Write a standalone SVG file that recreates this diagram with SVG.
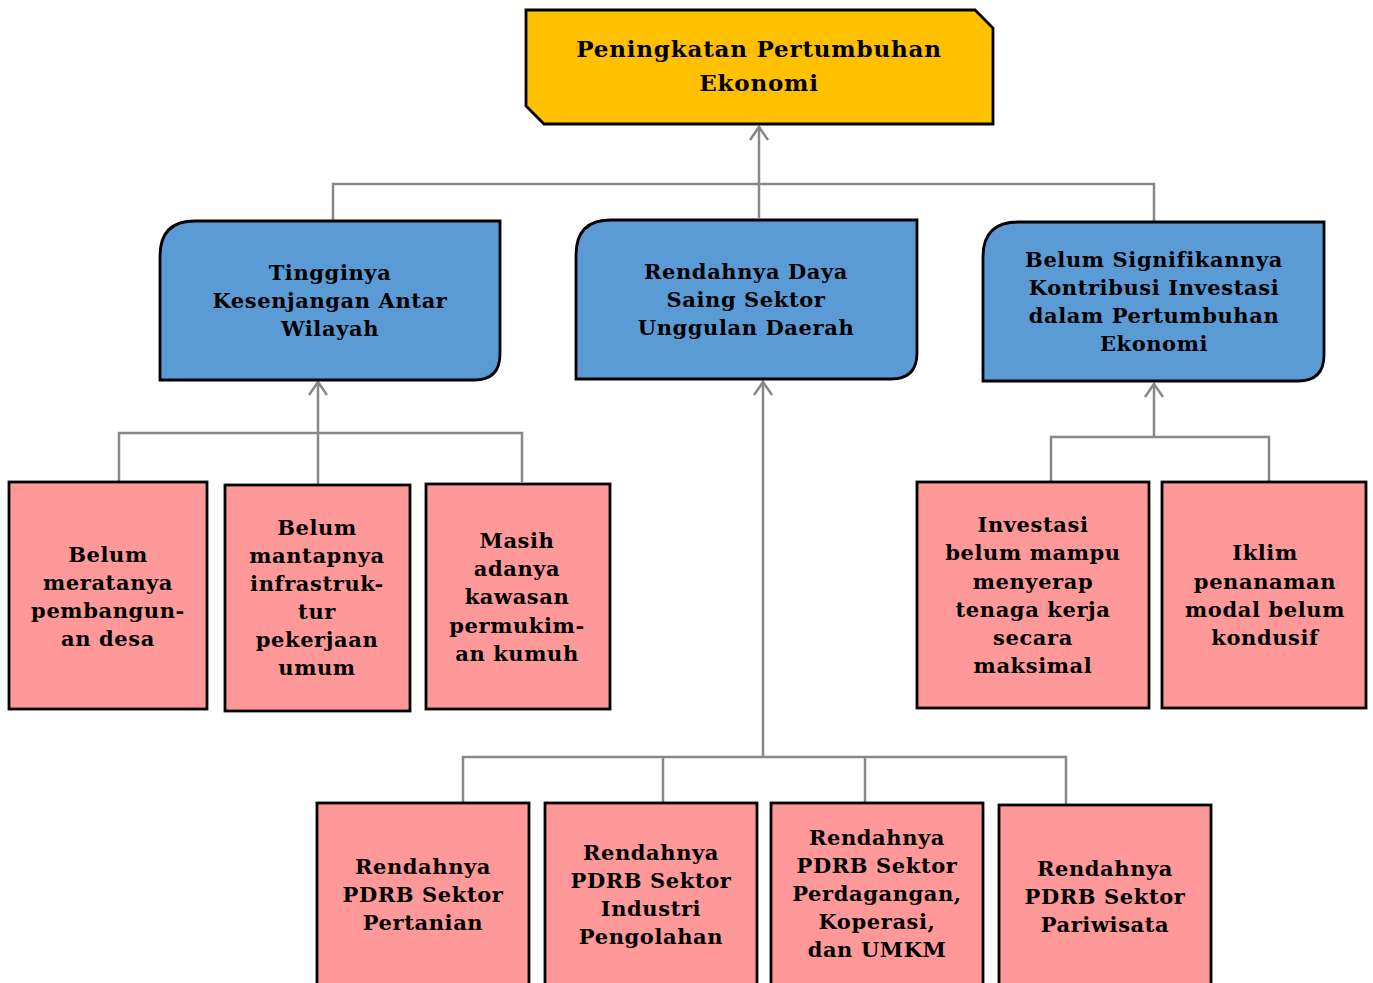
<svg xmlns="http://www.w3.org/2000/svg" width="1373" height="983" viewBox="0 0 1373 983">
<defs>
<style>
.t{font-family:"DejaVu Serif","Liberation Serif",serif;font-weight:bold;font-size:21px;letter-spacing:0.6px;fill:#000;text-anchor:middle}
.tt{font-size:23px;letter-spacing:0.8px}
.gold{fill:#FFC000;stroke:#000;stroke-width:2.8}
.blue{fill:#5B9BD5;stroke:#000;stroke-width:2.8}
.pink{fill:#FF9999;stroke:#000;stroke-width:2.8}
.c{stroke:#888;stroke-width:2.5;fill:none}
</style>
<marker id="arr" markerUnits="userSpaceOnUse" markerWidth="30" markerHeight="30" viewBox="-15 -15 30 30" refX="0" refY="0" orient="auto">
<path d="M -13 -9 L 0 0 L -13 9" fill="none" stroke="#888" stroke-width="2.5"/>
</marker>
</defs>
<rect width="1373" height="983" fill="#fff"/>

<g id="connectors">
<line class="c" x1="759" y1="218" x2="759" y2="127" marker-end="url(#arr)"/>
<polyline class="c" points="333,221 333,184 1154,184 1154,221"/>
<line class="c" x1="318" y1="484" x2="318" y2="382" marker-end="url(#arr)"/>
<polyline class="c" points="119,481 119,433 522,433 522,482"/>
<line class="c" x1="763" y1="757" x2="763" y2="382" marker-end="url(#arr)"/>
<polyline class="c" points="463,803 463,757 1066,757 1066,805"/>
<line class="c" x1="663" y1="757" x2="663" y2="804"/>
<line class="c" x1="865" y1="757" x2="865" y2="803"/>
<line class="c" x1="1154" y1="437" x2="1154" y2="384" marker-end="url(#arr)"/>
<polyline class="c" points="1051,482 1051,437 1269,437 1269,482"/>
</g>

<g id="n-top">
<path class="gold" d="M526,10 L975,10 L993,28 L993,124 L544,124 L526,106 Z"/>
<text class="t tt" x="759" y="57">Peningkatan Pertumbuhan</text>
<text class="t tt" x="759" y="91">Ekonomi</text>
</g>

<g id="n-kesenjangan">
<path class="blue" d="M195,221 L500,221 L500,354 Q500,380 474,380 L160,380 L160,256 Q160,221 195,221 Z"/>
<text class="t" x="330" y="280">Tingginya</text>
<text class="t" x="330" y="308">Kesenjangan Antar</text>
<text class="t" x="330" y="336">Wilayah</text>
</g>

<g id="n-dayasaing">
<path class="blue" d="M611,220 L917,220 L917,353 Q917,379 891,379 L576,379 L576,255 Q576,220 611,220 Z"/>
<text class="t" x="746" y="279">Rendahnya Daya</text>
<text class="t" x="746" y="307">Saing Sektor</text>
<text class="t" x="746" y="335">Unggulan Daerah</text>
</g>

<g id="n-investasi">
<path class="blue" d="M1018,222 L1324,222 L1324,355 Q1324,381 1298,381 L983,381 L983,257 Q983,222 1018,222 Z"/>
<text class="t" x="1154" y="267">Belum Signifikannya</text>
<text class="t" x="1154" y="295">Kontribusi Investasi</text>
<text class="t" x="1154" y="323">dalam Pertumbuhan</text>
<text class="t" x="1154" y="351">Ekonomi</text>
</g>

<g id="n-desa">
<rect class="pink" x="9" y="482" width="198" height="227"/>
<text class="t" x="108" y="562">Belum</text>
<text class="t" x="108" y="590">meratanya</text>
<text class="t" x="108" y="618">pembangun-</text>
<text class="t" x="108" y="646">an desa</text>
</g>

<g id="n-infra">
<rect class="pink" x="225" y="485" width="185" height="226"/>
<text class="t" x="317" y="535">Belum</text>
<text class="t" x="317" y="563">mantapnya</text>
<text class="t" x="317" y="591">infrastruk-</text>
<text class="t" x="317" y="619">tur</text>
<text class="t" x="317" y="647">pekerjaan</text>
<text class="t" x="317" y="675">umum</text>
</g>

<g id="n-kumuh">
<rect class="pink" x="426" y="484" width="184" height="225"/>
<text class="t" x="517" y="548">Masih</text>
<text class="t" x="517" y="576">adanya</text>
<text class="t" x="517" y="604">kawasan</text>
<text class="t" x="517" y="633">permukim-</text>
<text class="t" x="517" y="661">an kumuh</text>
</g>

<g id="n-tenagakerja">
<rect class="pink" x="917" y="482" width="232" height="226"/>
<text class="t" x="1033" y="532">Investasi</text>
<text class="t" x="1033" y="560">belum mampu</text>
<text class="t" x="1033" y="589">menyerap</text>
<text class="t" x="1033" y="617">tenaga kerja</text>
<text class="t" x="1033" y="645">secara</text>
<text class="t" x="1033" y="673">maksimal</text>
</g>

<g id="n-iklim">
<rect class="pink" x="1162" y="482" width="204" height="226"/>
<text class="t" x="1265" y="560">Iklim</text>
<text class="t" x="1265" y="589">penanaman</text>
<text class="t" x="1265" y="617">modal belum</text>
<text class="t" x="1265" y="645">kondusif</text>
</g>

<g id="n-pertanian">
<rect class="pink" x="317" y="803" width="212" height="200"/>
<text class="t" x="423" y="874">Rendahnya</text>
<text class="t" x="423" y="902">PDRB Sektor</text>
<text class="t" x="423" y="930">Pertanian</text>
</g>

<g id="n-industri">
<rect class="pink" x="545" y="803" width="212" height="200"/>
<text class="t" x="651" y="860">Rendahnya</text>
<text class="t" x="651" y="888">PDRB Sektor</text>
<text class="t" x="651" y="916">Industri</text>
<text class="t" x="651" y="944">Pengolahan</text>
</g>

<g id="n-perdagangan">
<rect class="pink" x="771" y="803" width="212" height="200"/>
<text class="t" x="877" y="845">Rendahnya</text>
<text class="t" x="877" y="873">PDRB Sektor</text>
<text class="t" x="877" y="901">Perdagangan,</text>
<text class="t" x="877" y="929">Koperasi,</text>
<text class="t" x="877" y="957">dan UMKM</text>
</g>

<g id="n-pariwisata">
<rect class="pink" x="999" y="805" width="212" height="200"/>
<text class="t" x="1105" y="876">Rendahnya</text>
<text class="t" x="1105" y="904">PDRB Sektor</text>
<text class="t" x="1105" y="932">Pariwisata</text>
</g>
</svg>
